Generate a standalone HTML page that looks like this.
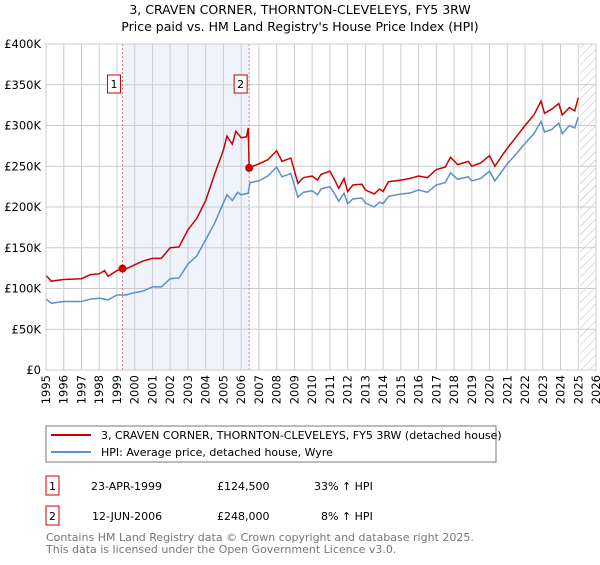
<!DOCTYPE html>
<html><head><meta charset="utf-8"><style>
body{margin:0;background:#fff;font-family:"Liberation Sans","DejaVu Sans",sans-serif;}
svg text{font-family:"DejaVu Sans","Liberation Sans",sans-serif;}
</style></head><body>
<svg id="c" width="600" height="560" xmlns="http://www.w3.org/2000/svg">
<defs><pattern id="hatch" width="6" height="6" patternUnits="userSpaceOnUse" patternTransform="rotate(45)"><line x1="0" y1="0" x2="0" y2="6" stroke="#bbb" stroke-width="1"/></pattern></defs>
<text x="300" y="14" text-anchor="middle" font-size="12.5">3, CRAVEN CORNER, THORNTON-CLEVELEYS, FY5 3RW</text>
<text x="300" y="31" text-anchor="middle" font-size="12.5">Price paid vs. HM Land Registry's House Price Index (HPI)</text>
<g id="plot"></g>
<rect x="46" y="426" width="450" height="36" fill="#fff" stroke="#777"/>
<line x1="51" y1="435" x2="91" y2="435" stroke="#cc0000" stroke-width="2"/>
<text x="101" y="439" font-size="11">3, CRAVEN CORNER, THORNTON-CLEVELEYS, FY5 3RW (detached house)</text>
<line x1="51" y1="452" x2="91" y2="452" stroke="#5b8fd0" stroke-width="2"/>
<text x="101" y="456" font-size="11">HPI: Average price, detached house, Wyre</text>
<g font-size="11">
<rect x="46" y="476" width="13" height="19" fill="none" stroke="#cc0000"/>
<text x="52.5" y="490" text-anchor="middle">1</text>
<text x="91" y="490">23-APR-1999</text>
<text x="217" y="490">£124,500</text>
<text x="314" y="490">33% ↑ HPI</text>
<rect x="46" y="506" width="13" height="19" fill="none" stroke="#cc0000"/>
<text x="52.5" y="520" text-anchor="middle">2</text>
<text x="92" y="520">12-JUN-2006</text>
<text x="217" y="520">£248,000</text>
<text x="321" y="520">8% ↑ HPI</text>
</g>
<text x="46" y="541" font-size="11" fill="#777">Contains HM Land Registry data © Crown copyright and database right 2025.</text>
<text x="46" y="553" font-size="11" fill="#777">This data is licensed under the Open Government Licence v3.0.</text>
</svg>
<script>
const hpiYears=[1995,1995.3,1996,1997,1997.5,1998,1998.5,1999,1999.5,2000,2000.5,2001,2001.5,2002,2002.5,2003,2003.5,2004,2004.5,2005,2005.2,2005.5,2005.8,2006,2006.4,2006.5,2007,2007.5,2008,2008.3,2008.8,2009.2,2009.5,2010,2010.3,2010.5,2011,2011.3,2011.5,2011.8,2012,2012.3,2012.8,2013,2013.5,2013.8,2014,2014.3,2015,2015.5,2016,2016.5,2017,2017.5,2017.8,2018.2,2018.8,2019,2019.5,2020,2020.3,2020.7,2021,2021.5,2022,2022.5,2022.9,2023.1,2023.5,2023.9,2024.1,2024.5,2024.8,2025.0];
const hpiValues=[87,82,84,84,87,88,86,92,92,95,97,102,102,112,113,130,140,160,180,205,215,208,218,215,217,230,232,238,249,237,241,212,218,220,215,222,225,215,207,217,204,210,211,205,200,206,204,213,216,217,221,218,227,230,242,234,237,232,235,244,232,244,253,265,278,290,305,292,295,303,290,300,297,310];
const priceYears=[1995,1995.3,1996,1997,1997.5,1998,1998.3,1998.5,1999,1999.31,1999.5,2000,2000.5,2001,2001.5,2002,2002.5,2003,2003.5,2004,2004.5,2005,2005.2,2005.5,2005.7,2006,2006.3,2006.4,2006.45,2007,2007.5,2008,2008.3,2008.8,2009.2,2009.5,2010,2010.3,2010.5,2011,2011.3,2011.5,2011.8,2012,2012.3,2012.8,2013,2013.5,2013.8,2014,2014.3,2015,2015.5,2016,2016.5,2017,2017.5,2017.8,2018.2,2018.8,2019,2019.5,2020,2020.3,2020.7,2021,2021.5,2022,2022.5,2022.9,2023.1,2023.5,2023.9,2024.1,2024.5,2024.8,2025.0];
const priceValues=[116,109,111,112,117,118,122,115,122,124.5,124,129,134,137,137,150,151,172,186,208,240,270,287,277,293,285,286,297,248,253,258,269,256,260,229,236,238,233,240,244,232,223,235,219,227,228,221,216,222,219,231,233,235,238,236,246,249,261,252,256,250,254,263,250,263,272,286,300,313,330,315,320,327,313,322,318,334];
const saleYears=[1999.31,2006.45];
const saleValues=[124.5,248];
const yTicks=[0,50,100,150,200,250,300,350,400];
const xTicks=[1995,1996,1997,1998,1999,2000,2001,2002,2003,2004,2005,2006,2007,2008,2009,2010,2011,2012,2013,2014,2015,2016,2017,2018,2019,2020,2021,2022,2023,2024,2025,2026];
const X0=46,X1=596,Y0=370,Y1=44;
const xs=y=>X0+(y-1995)/(2026-1995)*(X1-X0);
const ys=v=>Y0-v/400*(Y0-Y1);
const NS="http://www.w3.org/2000/svg";
const g=document.getElementById('plot');
function mk(t,a){const e=document.createElementNS(NS,t);for(const k in a)e.setAttribute(k,a[k]);g.appendChild(e);return e;}
let r=mk('rect',{x:xs(saleYears[0]),y:Y1,width:xs(saleYears[1])-xs(saleYears[0]),height:Y0-Y1,fill:'#eef3fc'});


r=mk('rect',{x:xs(2025.1),y:Y1,width:X1-xs(2025.1),height:Y0-Y1,fill:'url(#hatch)'});


yTicks.forEach(v=>{
 let l=mk('line',{x1:X0,x2:X1,y1:ys(v),y2:ys(v),stroke:'#ccc'});
 
 
 let t=mk('text',{x:X0-5,y:ys(v)+4,'text-anchor':'end','font-size':'11.5'});
 t.textContent=v===0?'£0':'£'+v+'K';
 
 
});
xTicks.forEach(y=>{
 let l=mk('line',{x1:xs(y),x2:xs(y),y1:Y1,y2:Y0,stroke:'#ccc'});
 
 
 let t=mk('text',{x:0,y:0,'text-anchor':'end','font-size':'11.5',transform:`translate(${xs(y)+4},${Y0+5}) rotate(-90)`});
 t.textContent=y;
 
 
});
saleYears.forEach((y,i)=>{
 let l=mk('line',{x1:xs(y),x2:xs(y),y1:Y1,y2:Y0,stroke:'#e06060','stroke-dasharray':'2,2','stroke-width':0.8});
 
 
 let b=mk('rect',{x:xs(y)-15,y:75,width:13,height:18,fill:'#fff',stroke:'#cc0000'});
 
 
 let t=mk('text',{x:xs(y)-8.5,y:88,'text-anchor':'middle','font-size':'11'});
 t.textContent=String(i+1);
 
 
});
let p=mk('polyline',{points:hpiYears.map((y,i)=>xs(y)+','+ys(hpiValues[i])).join(' '),fill:'none',stroke:'#5b8fd0','stroke-width':1.5});


p=mk('polyline',{points:priceYears.map((y,i)=>xs(y)+','+ys(priceValues[i])).join(' '),fill:'none',stroke:'#cc0000','stroke-width':1.5});


saleYears.forEach((y,i)=>{
 let c=mk('circle',{cx:xs(y),cy:ys(saleValues[i]),r:4,fill:'#cc0000'});
 
 
});
let ax=mk('rect',{x:X0,y:Y1,width:X1-X0,height:Y0-Y1,fill:'none',stroke:'#ccc'});


</script>
</body></html>
